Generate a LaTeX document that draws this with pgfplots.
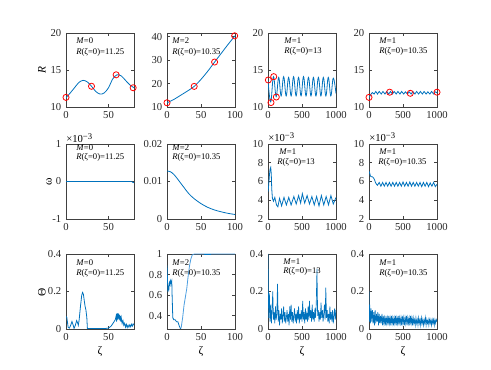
\documentclass[border=0pt]{standalone}
\usepackage{pgfplots}
\pgfplotsset{compat=1.18}
\usepackage{fontspec}
\setmainfont{Liberation Serif}

\definecolor{mblue}{rgb}{0,0.447,0.741}
\definecolor{lblue}{rgb}{0.30,0.62,0.88}
\newcommand\tickfont{\fontsize{8}{9}\selectfont}
\newcommand\annfont{\fontsize{6.5}{7.5}\selectfont}
\newcommand\labfont{\fontsize{8.5}{10}\selectfont}
% put a text node at pixel position (x from left, y from top) of the 491x370 figure
\newcommand{\ann}[3]{\node[anchor=west,inner sep=0pt,font=\annfont] at ({#1*0.75pt},{(370-#2)*0.75pt}) {#3};}
\newcommand{\lab}[4][0]{\node[inner sep=0pt,font=\labfont,rotate=#1] at ({#2*0.75pt},{(370-#3)*0.75pt}) {#4};}

\pgfplotsset{
  mstyle/.style={
    scale only axis, width=51pt, height=55.5pt,
    axis line style={black!75, line width=0.4pt},
    tick style={black!75, line width=0.4pt},
    major tick length=2pt, tick align=inside,
    ticklabel style={font=\tickfont, text=black!85},
    scaled ticks=false, clip=true,
  },
  curve/.style={mblue, line width=0.6pt, no marks},
  circ/.style={only marks, mark=o, mark size=2.3pt, red, mark options={line width=0.6pt}},
}

\begin{document}
\begin{tikzpicture}
\path[use as bounding box] (0,0) rectangle (368.25pt,277.5pt);

% ---------------- row 1: R ----------------
\begin{axis}[mstyle, at={(49.5pt,197.25pt)},
  xmin=0, xmax=80, xtick={0,50}, xticklabels={0,50},
  ymin=10, ymax=20, ytick={10,15,20}, yticklabels={10,15,20}]
\addplot[curve, smooth] coordinates {
 (0,11.25) (5,11.9) (10,12.6) (15,13.3) (20,13.6) (25,13.4) (30,12.8) (35,12.1)
 (40,11.75) (45,11.9) (50,12.6) (55,13.8) (60,14.35) (65,14.2) (70,13.6) (75,13.0) (80,12.6)};
\addplot[circ] coordinates {(0,11.3) (30,12.8) (59,14.35) (79,12.6)};
\end{axis}

\begin{axis}[mstyle, at={(125.25pt,197.25pt)},
  xmin=0, xmax=100, xtick={0,50,100}, xticklabels={0,50,100},
  ymin=10, ymax=41.6, ytick={10,20,30,40}, yticklabels={10,20,30,40}]
\addplot[curve, smooth] coordinates {
 (0,11.8) (10,13.2) (20,15.0) (30,16.8) (40,18.8) (50,21.8) (60,25.3) (70,29.2)
 (80,33.0) (90,36.8) (100,40.4)};
\addplot[circ, clip=false] coordinates {(0,11.8) (40,18.8) (70,29.2) (99.5,40.4)};
\end{axis}

\begin{axis}[mstyle, at={(201pt,197.25pt)},
  xmin=0, xmax=1000, xtick={0,500,1000}, xticklabels={0,500,1000},
  ymin=10, ymax=20, ytick={10,15,20}, yticklabels={10,15,20}]
\addplot[curve, smooth, tension=0.7] coordinates {
 (0,13.6) (40,10.7) (80,14.1) (120,11.4) (157,14.0) (193,11.5) (230,14.1) (267,11.5)
 (303,14.0) (340,11.5) (376,14.1) (413,11.5) (449,14.0) (486,11.5) (522,14.1) (559,11.5)
 (595,14.0) (632,11.5) (668,14.0) (705,11.5) (741,14.0) (778,11.5) (814,14.0) (851,11.5)
 (887,14.0) (924,11.5) (960,13.9) (1000,11.8)};
\addplot[circ] coordinates {(5,13.65) (44,10.6) (84,14.1) (122,11.35)};
\end{axis}

\begin{axis}[mstyle, at={(276.75pt,197.25pt)},
  xmin=0, xmax=1000, xtick={0,500,1000}, xticklabels={0,500,1000},
  ymin=10, ymax=20, ytick={10,15,20}, yticklabels={10,15,20}]
\addplot[curve, smooth] coordinates {
 (0,11.3) (15,11.5) (30,11.75) (50,11.95) (75,11.75) (100,12.1) (125,11.75) (150,12.1)
 (180,11.75) (205,12.1) (235,11.75) (260,12.1) (290,11.75) (315,12.1) (345,11.75)
 (370,12.1) (400,11.75) (425,12.1) (455,11.75) (480,12.1) (510,11.75) (535,12.05)
 (565,11.75) (590,12.05) (620,11.75) (645,12.1) (675,11.75) (700,12.1) (730,11.75)
 (755,12.1) (785,11.75) (810,12.1) (840,11.75) (865,12.05) (895,11.75) (920,12.1)
 (950,11.75) (975,12.05) (1000,11.9)};
\addplot[circ, clip=false] coordinates {(0,11.3) (304,12.0) (607,11.85) (1000,12.0)};
\end{axis}

% ---------------- row 2: omega ----------------
\begin{axis}[mstyle, at={(49.5pt,113.25pt)}, height=56.25pt,
  xmin=0, xmax=80, xtick={0,50}, xticklabels={0,50},
  ymin=-1, ymax=1, ytick={-1,0,1}, yticklabels={-1,0,1}]
\addplot[curve, line width=1.3pt] coordinates {(0,0) (40,0) (77,0)};
\addplot[curve] coordinates {(77,0) (78,-0.01) (79,-0.03) (80,-0.02)};
\end{axis}

\begin{axis}[mstyle, at={(125.25pt,113.25pt)}, height=56.25pt,
  xmin=0, xmax=100, xtick={0,50,100}, xticklabels={0,50,100},
  ymin=0, ymax=0.02, ytick={0,0.01,0.02}, yticklabels={0,0.01,0.02}]
\addplot[curve, smooth] coordinates {
 (0,0.0128) (5,0.0126) (10,0.0119) (15,0.0108) (20,0.0096) (25,0.0084) (30,0.0072)
 (35,0.0062) (40,0.0054) (50,0.0041) (60,0.0031) (70,0.0024) (80,0.0019) (90,0.0015) (100,0.0012)};
\end{axis}

\begin{axis}[mstyle, at={(201pt,113.25pt)}, height=56.25pt,
  xmin=0, xmax=1000, xtick={0,500,1000}, xticklabels={0,500,1000},
  ymin=2, ymax=10, ytick={2,4,6,8,10}, yticklabels={2,4,6,8,10}]
\addplot[curve] coordinates {
 (0,4.9) (10,5.6) (20,6.6) (30,7.3) (40,7.5) (48,6.8) (55,5.2) (65,4.2) (80,3.9)
 (100,4.3) (125,3.5) (145,3.3) (170,4.2) (200,3.4) (235,4.3) (270,3.5) (305,4.3)
 (340,3.5) (380,4.4) (415,3.6) (450,4.5) (480,3.7) (505,4.7) (540,3.7) (575,4.5)
 (610,3.6) (645,4.4) (680,3.5) (715,4.4) (750,3.4) (785,4.5) (820,3.5) (855,4.4)
 (890,3.5) (925,4.5) (960,3.6) (1000,4.3)};
\end{axis}

\begin{axis}[mstyle, at={(276.75pt,113.25pt)}, height=56.25pt,
  xmin=0, xmax=1000, xtick={0,500,1000}, xticklabels={0,500,1000},
  ymin=2, ymax=10, ytick={2,4,6,8,10}, yticklabels={2,4,6,8,10}]
\addplot[curve] coordinates {
 (0,7.1) (10,6.9) (20,6.6) (35,6.5) (50,6.5) (65,6.4) (80,6.2) (95,5.9) (110,5.7)
 (125,5.6) (150,5.9) (175,5.5) (200,5.9) (225,5.5) (250,5.9) (275,5.5) (300,5.9)
 (325,5.5) (350,5.9) (375,5.5) (400,5.9) (425,5.5) (450,5.9) (475,5.5) (500,5.95)
 (525,5.5) (550,5.9) (575,5.5) (600,5.95) (625,5.5) (650,5.9) (675,5.5) (700,5.9)
 (725,5.5) (750,5.9) (775,5.45) (800,5.9) (825,5.5) (850,5.9) (875,5.45) (900,5.85)
 (925,5.5) (950,5.9) (975,5.45) (1000,5.7)};
\end{axis}

% ---------------- row 3: Theta ----------------
\begin{axis}[mstyle, at={(49.5pt,30.75pt)}, height=56.25pt,
  xmin=0, xmax=80, xtick={0,50}, xticklabels={0,50},
  ymin=0, ymax=0.4, ytick={0,0.2,0.4}, yticklabels={0,0.2,0.4}]
\addplot[curve] coordinates {
 (0,0.068) (1,0.06) (2.5,0.01) (4,0.005) (5.5,0.02) (7,0.04) (8.5,0.02) (9.5,0.003)
 (11,0.02) (12.5,0.045) (13.5,0.035) (14.5,0.02) (15.5,0.05) (17,0.12) (18.5,0.18)
 (19.5,0.195) (20.5,0.185) (21.5,0.15) (22.5,0.12) (23.5,0.1) (24.5,0.06) (25.2,0.0)
 (26,0.002) (35,0.003) (45,0.002) (50,0.005) (53,0.015) (56,0.035) (58,0.05) (59,0.07)
 (59.5,0.04) (60,0.08) (60.5,0.05) (61,0.085) (61.5,0.055) (62,0.08) (62.5,0.05) (63,0.075)
 (63.5,0.045) (64,0.07) (64.5,0.04) (65,0.06) (66,0.03) (67,0.045) (68,0.02) (69,0.03)
 (70,0.01) (71,0.025) (72,0.008) (73,0.02) (74,0.01) (75,0.022) (76,0.012) (77,0.025)
 (78,0.015) (79,0.027) (80,0.02)};
\end{axis}

\begin{axis}[mstyle, at={(125.25pt,30.75pt)}, height=56.25pt,
  xmin=0, xmax=100, xtick={0,50,100}, xticklabels={0,50,100},
  ymin=0.27, ymax=1, ytick={0.4,0.6,0.8,1}, yticklabels={0.4,0.6,0.8,1}]
\addplot[lblue, line width=0.6pt] coordinates {
 (20,0.27) (21,0.29) (23,0.38) (25,0.5) (27,0.58) (29,0.66) (31,0.78) (33,0.88)
 (35,0.95) (37,0.99) (40,1.0) (100,1.0)};
\addplot[curve] coordinates {
 (0,0.89) (0.7,0.75) (1.4,0.63) (2,0.68) (2.8,0.66) (3.5,0.72) (4.5,0.7) (5,0.74)
 (6,0.72) (7,0.74) (7.5,0.6) (8.5,0.38) (10,0.36) (12,0.36) (14,0.34) (16,0.34)
 (18,0.3) (20,0.27)};
\addplot[curve, line width=1pt] coordinates {(55,0.995) (65,0.995)};
\end{axis}

\begin{axis}[mstyle, at={(201pt,30.75pt)}, height=56.25pt,
  xmin=0, xmax=1000, xtick={0,500,1000}, xticklabels={0,500,1000},
  ymin=0, ymax=0.4, ytick={0,0.2,0.4}, yticklabels={0,0.2,0.4}]
\addplot[curve, line width=0.5pt] coordinates {
 (0,0.40) (10,0.06) (20,0.19) (30,0.04) (40,0.13) (50,0.03) (60,0.1) (70,0.2) (80,0.05)
 (90,0.09) (100,0.03) (110,0.12) (120,0.05) (130,0.08) (140,0.24) (150,0.04) (160,0.1)
 (170,0.02) (180,0.08) (190,0.05) (200,0.11) (210,0.03) (220,0.07) (230,0.12) (240,0.04)
 (250,0.09) (260,0.03) (270,0.06) (280,0.1) (290,0.04) (300,0.08) (310,0.02) (320,0.12)
 (330,0.05) (340,0.13) (350,0.04) (360,0.09) (370,0.03) (380,0.07) (390,0.11) (400,0.04)
 (410,0.08) (420,0.03) (430,0.1) (440,0.05) (450,0.12) (460,0.03) (470,0.08) (480,0.05)
 (490,0.1) (500,0.04) (510,0.15) (520,0.05) (530,0.09) (540,0.03) (550,0.11) (560,0.05)
 (570,0.08) (580,0.04) (590,0.12) (600,0.05) (610,0.15) (620,0.06) (630,0.1) (640,0.04)
 (650,0.13) (660,0.05) (670,0.09) (680,0.04) (690,0.11) (700,0.06) (710,0.14) (720,0.32)
 (730,0.07) (740,0.1) (750,0.04) (760,0.09) (770,0.05) (780,0.14) (790,0.06) (800,0.1)
 (810,0.04) (820,0.08) (830,0.13) (840,0.05) (850,0.22) (860,0.06) (870,0.1) (880,0.04)
 (890,0.08) (900,0.03) (910,0.12) (920,0.05) (930,0.09) (940,0.04) (950,0.1) (960,0.03)
 (970,0.07) (980,0.11) (990,0.05) (1000,0.1)};
\end{axis}

\begin{axis}[mstyle, at={(276.75pt,30.75pt)}, height=56.25pt,
  xmin=0, xmax=1000, xtick={0,500,1000}, xticklabels={0,500,1000},
  ymin=0, ymax=0.4, ytick={0,0.2,0.4}, yticklabels={0,0.2,0.4}]
\addplot[curve, line width=0.5pt] coordinates {
 (0,0.20) (5,0.04) (10,0.13) (20,0.03) (30,0.11) (40,0.04) (50,0.1) (60,0.03) (70,0.09)
 (80,0.02) (90,0.1) (100,0.03) (110,0.08) (120,0.04) (130,0.09) (140,0.02) (150,0.08)
 (160,0.03) (170,0.07) (180,0.03) (190,0.08) (200,0.02) (210,0.07) (220,0.03) (230,0.06)
 (240,0.02) (250,0.07) (260,0.03) (270,0.06) (280,0.02) (290,0.07) (300,0.03) (310,0.06)
 (320,0.02) (330,0.07) (340,0.03) (350,0.06) (360,0.02) (370,0.06) (380,0.03) (390,0.07)
 (400,0.02) (410,0.06) (420,0.03) (430,0.07) (440,0.02) (450,0.06) (460,0.03) (470,0.06)
 (480,0.02) (490,0.07) (500,0.03) (510,0.06) (520,0.02) (530,0.06) (540,0.03) (550,0.07)
 (560,0.02) (570,0.06) (580,0.03) (590,0.06) (600,0.02) (610,0.07) (620,0.03) (630,0.06)
 (640,0.02) (650,0.06) (660,0.03) (670,0.05) (680,0.02) (690,0.06) (700,0.03) (710,0.05)
 (720,0.02) (730,0.06) (740,0.03) (750,0.05) (760,0.02) (770,0.06) (780,0.03) (790,0.05)
 (800,0.02) (810,0.05) (820,0.03) (830,0.06) (840,0.02) (850,0.05) (860,0.03) (870,0.05)
 (880,0.02) (890,0.05) (900,0.03) (910,0.05) (920,0.02) (930,0.05) (940,0.03) (950,0.05)
 (960,0.02) (970,0.05) (980,0.03) (990,0.05) (1000,0.04)};
\end{axis}

% ---------------- labels ----------------
\lab[90]{42}{70}{\textit{R}}
\lab[90]{49}{182}{ω}
\lab[90]{42}{292}{Θ}
\lab{100}{352}{ζ}
\lab{201}{352}{ζ}
\lab{302}{352}{ζ}
\lab{403}{352}{ζ}

% exponent labels
\ann{66}{138}{{\tickfont ×10}\raisebox{0.6ex}{\annfont −3}}
\ann{268}{137}{{\tickfont ×10}\raisebox{0.6ex}{\annfont −3}}
\ann{369}{137}{{\tickfont ×10}\raisebox{0.6ex}{\annfont −3}}

% annotations
\ann{76}{41}{\textit{M}=0}      \ann{76}{52}{\textit{R}(ζ=0)=11.25}
\ann{172}{41}{\textit{M}=2}     \ann{172}{52}{\textit{R}(ζ=0)=10.35}
\ann{284}{41}{\textit{M}=1}     \ann{284}{51}{\textit{R}(ζ=0)=13}
\ann{379}{41}{\textit{M}=1}     \ann{379}{51}{\textit{R}(ζ=0)=10.35}

\ann{76}{148}{\textit{M}=0}     \ann{76}{157}{\textit{R}(ζ=0)=11.25}
\ann{172}{148}{\textit{M}=2}    \ann{172}{157}{\textit{R}(ζ=0)=10.35}
\ann{279}{152}{\textit{M}=1}    \ann{277}{162}{\textit{R}(ζ=0)=13}
\ann{379}{152}{\textit{M}=1}    \ann{378}{162}{\textit{R}(ζ=0)=10.35}

\ann{76}{263}{\textit{M}=0}     \ann{76}{273}{\textit{R}(ζ=0)=11.25}
\ann{172}{263}{\textit{M}=2}    \ann{172}{273}{\textit{R}(ζ=0)=10.35}
\ann{283}{262}{\textit{M}=1}    \ann{283}{271}{\textit{R}(ζ=0)=13}
\ann{379}{263}{\textit{M}=1}    \ann{379}{273}{\textit{R}(ζ=0)=10.35}
\end{tikzpicture}
\end{document}
